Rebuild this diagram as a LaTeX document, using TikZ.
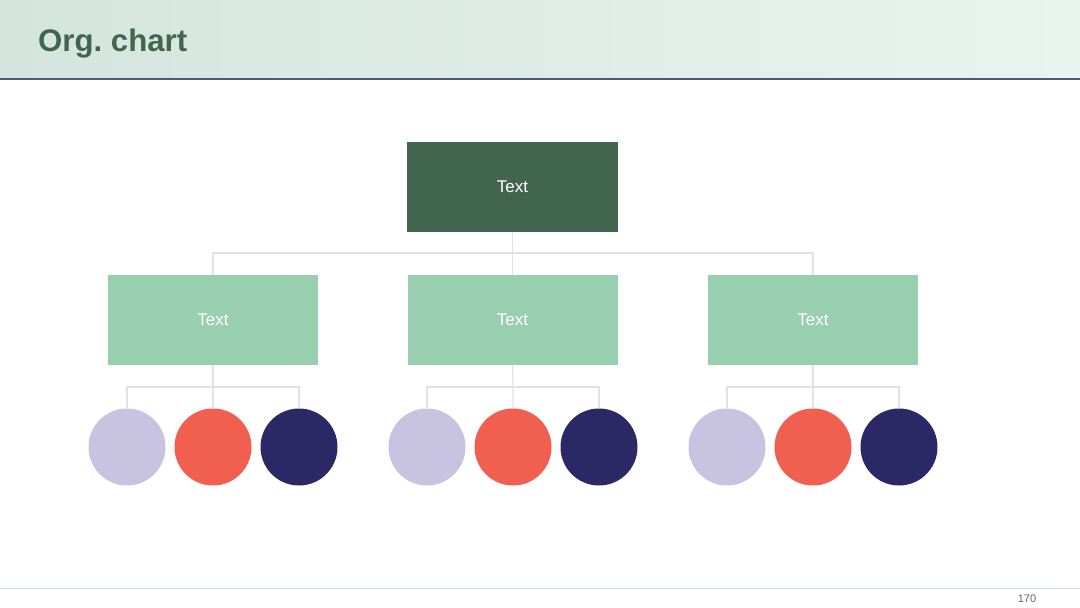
\documentclass[tikz,border=0pt]{standalone}
\usepackage{fontspec}
\setmainfont{Liberation Sans}
\frenchspacing
\definecolor{hdrL}{HTML}{D4E5DD}
\definecolor{hdrR}{HTML}{EAF4EF}
\definecolor{hdrline}{HTML}{4B5B70}
\definecolor{titlec}{HTML}{41664F}
\definecolor{topbox}{HTML}{41654F}
\definecolor{midbox}{HTML}{98CFB0}
\definecolor{conn}{HTML}{E2E2E2}
\definecolor{lilac}{HTML}{C8C3E0}
\definecolor{coral}{HTML}{F05F50}
\definecolor{navy}{HTML}{2B2866}
\definecolor{footline}{HTML}{D3E2DD}
\definecolor{pagenum}{HTML}{666666}
\begin{document}
\begin{tikzpicture}[x=1pt,y=-1pt,
  boxtop/.style={fill=topbox,minimum width=211pt,minimum height=90pt,inner sep=0pt,text=white,font=\fontsize{17}{20}\selectfont},
  boxmid/.style={fill=midbox,minimum width=210pt,minimum height=90pt,inner sep=0pt,text=white,font=\fontsize{17}{20}\selectfont},
  dot/.style={circle,minimum size=77pt,inner sep=0pt},
  link/.style={draw=conn,line width=1.2pt}]
\useasboundingbox (0,0) rectangle (1080,608);
\fill[white] (0,0) rectangle (1080,608);
\shade[left color=hdrL,right color=hdrR] (0,0) rectangle (1080,78);
\draw[hdrline,line width=2pt] (0,79) -- (1080,79);
\node[anchor=base west,text=titlec,font=\fontsize{31.2}{36}\selectfont\bfseries,inner sep=0pt] (title) at (38,51) {Org. chart};
\draw[footline,line width=1pt] (0,588) -- (1080,588);
\node[anchor=base,text=pagenum,font=\fontsize{11}{13}\selectfont,inner sep=0pt] (pg) at (1027,602) {170};

\node[boxtop] (top) at (512.5,187) {Text};
\node[boxmid] (m1) at (213,320) {Text};
\node[boxmid] (m2) at (512.5,320) {Text};
\node[boxmid] (m3) at (813,320) {Text};

\coordinate (bus) at (512.5,253);
\draw[link] (top.south) -- (bus);
\draw[link] (m1.north) |- (bus);
\draw[link] (m3.north) |- (bus);
\draw[link] (bus) -- (m2.north);

\foreach \m/\x in {1/127,2/427,3/727}{
  \node[dot,fill=lilac] (c\m a) at (\x,447) {};
  \node[dot,fill=coral] (c\m b) at (\x+86,447) {};
  \node[dot,fill=navy] (c\m c) at (\x+172,447) {};
  \coordinate (j\m) at (\x+86,387);
  \draw[link] (m\m.south) -- (j\m) -- (c\m b.north);
  \draw[link] (c\m a.north) |- (j\m);
  \draw[link] (c\m c.north) |- (j\m);
}
\end{tikzpicture}
\end{document}
